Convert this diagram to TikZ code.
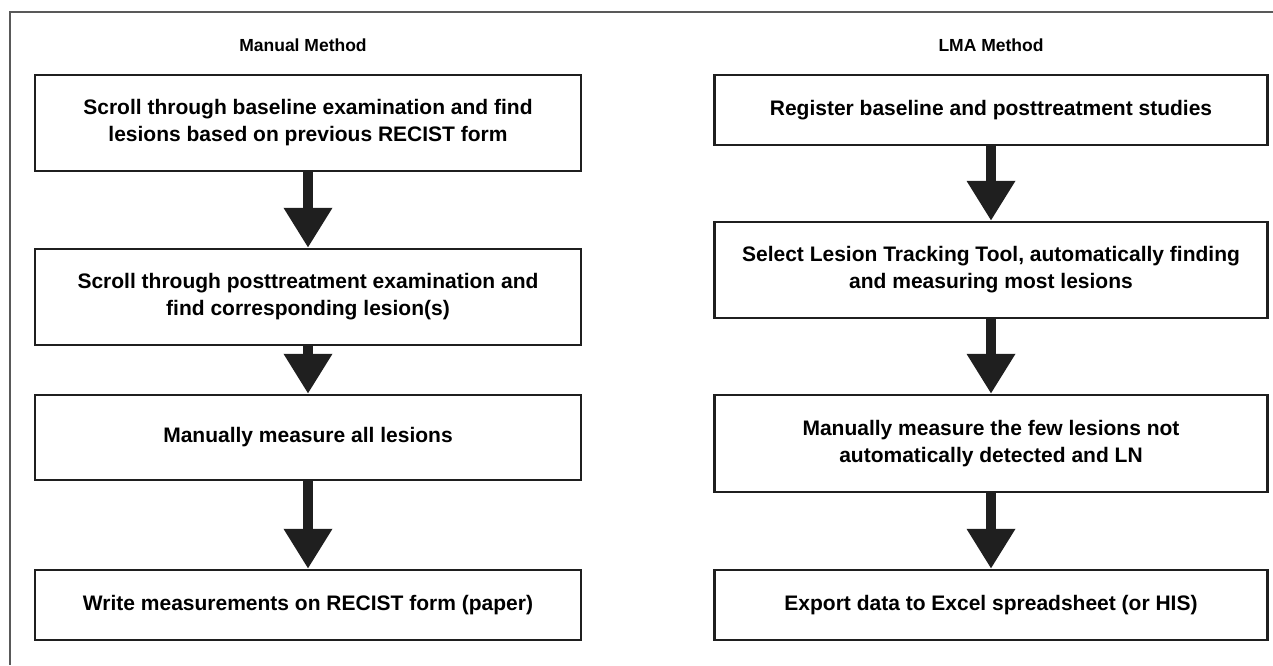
\documentclass[tikz,border=0pt]{standalone}
\usepackage{fontspec}
\setmainfont{Liberation Sans}
\usetikzlibrary{arrows.meta}
\begin{document}
\begin{tikzpicture}[x=1pt,y=-1pt,
  stepbox/.style={draw=black!88,line width=2.4pt,fill=white,inner sep=0pt,font=\bfseries\fontsize{21}{27}\selectfont,align=center},
  title/.style={font=\bfseries\fontsize{17.5}{21}\selectfont},
  bigarrow/.style={draw=black!88,line width=10pt,-{Triangle[width=46pt,length=40pt]}},
  frame/.style={draw=black!65,line width=1.3pt}]
\useasboundingbox (0,0) rectangle (1273,665);
\coordinate (fa) at (1273,12);
\coordinate (fb) at (10,12);
\coordinate (fc) at (10,665);
\draw[frame] (fa) -- (fb) -- (fc);
\node[title] (tl) at (303,45) {Manual Method};
\node[title] (tr) at (991,45) {LMA Method};
% left column
\node[stepbox,minimum width=546pt,minimum height=96pt] (l1) at (308,123) {Scroll through baseline examination and find\\lesions based on previous RECIST form};
\node[stepbox,minimum width=546pt,minimum height=96pt] (l2) at (308,297) {Scroll through posttreatment examination and\\find corresponding lesion(s)};
\node[stepbox,minimum width=546pt,minimum height=85pt] (l3) at (308,437.5) {Manually measure all lesions};
\node[stepbox,minimum width=546pt,minimum height=70pt] (l4) at (308,605) {Write measurements on RECIST form (paper)};
% right column
\node[stepbox,minimum width=553pt,minimum height=70pt] (r1) at (991,110) {Register baseline and posttreatment studies};
\node[stepbox,minimum width=553pt,minimum height=96pt] (r2) at (991,270) {Select Lesion Tracking Tool, automatically finding\\and measuring most lesions};
\node[stepbox,minimum width=553pt,minimum height=97pt] (r3) at (991,443.5) {Manually measure the few lesions not\\automatically detected and LN};
\node[stepbox,minimum width=553pt,minimum height=70pt] (r4) at (991,605) {Export data to Excel spreadsheet (or HIS)};
\draw[bigarrow] (l1) -- (l2);
\draw[bigarrow] (l2) -- (l3);
\draw[bigarrow] (l3) -- (l4);
\draw[bigarrow] (r1) -- (r2);
\draw[bigarrow] (r2) -- (r3);
\draw[bigarrow] (r3) -- (r4);
\end{tikzpicture}
\end{document}
